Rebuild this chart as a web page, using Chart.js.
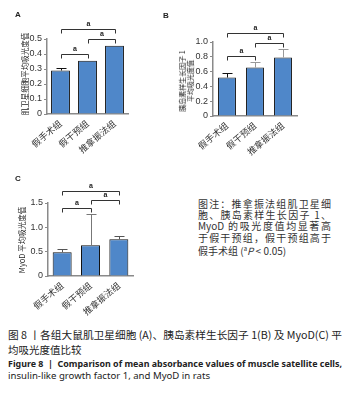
<!DOCTYPE html>
<html>
<head>
<meta charset="utf-8">
<script src="https://cdn.jsdelivr.net/npm/chart.js"></script>
<style>
  body { margin: 0; background: #fff; }
  #page { position: relative; width: 346px; height: 396px; overflow: hidden; font-family: "Noto Sans CJK SC", "Noto Sans", sans-serif; color: #222; }
  canvas { position: absolute; }
  .t { position: absolute; white-space: nowrap; }
  .ytitle { transform: translate(-50%, -50%) rotate(-90deg); text-align: center; }
  .letter { font-family: "Liberation Sans", sans-serif; font-weight: bold; font-size: 8px; transform: translate(-50%, -50%); }
  .note { position: absolute; left: 198px; top: 198px; width: 133px; font-size: 10px; line-height: 11.2px; color: #333; }
  .note div { text-align: justify; text-align-last: justify; white-space: nowrap; }
  .note div.last { text-align-last: left; }
  .cap { position: absolute; left: 8px; white-space: nowrap; transform-origin: left center; color: #222; }
</style>
</head>
<body>
<div id="page">
  <canvas id="chartA" width="165" height="160" style="left:0;top:0"></canvas>
  <canvas id="chartB" width="181" height="160" style="left:165px;top:0"></canvas>
  <canvas id="chartC" width="170" height="160" style="left:0;top:160px"></canvas>

  <div class="t letter" style="left:18px;top:14px">A</div>
  <div class="t letter" style="left:166px;top:15px">B</div>
  <div class="t letter" style="left:18px;top:178px">C</div>

  <div class="t ytitle" style="left:24px;top:74px;font-size:7.5px">肌卫星细胞平均吸光度值</div>
  <div class="t ytitle" style="left:186px;top:81px;font-size:7px;line-height:8px">胰岛素样生长因子 1<br>平均吸光度值</div>
  <div class="t ytitle" style="left:21px;top:240px;font-size:7.5px">MyoD 平均吸光度值</div>

  <div class="note">
    <div>图注：推拿振法组肌卫星细</div>
    <div>胞、胰岛素样生长因子 1、</div>
    <div>MyoD 的吸光度值均显著高</div>
    <div>于假干预组，假干预组高于</div>
    <div class="last">假手术组 (<sup style="font-size:6px">a</sup><i>P</i> &lt; 0.05)</div>
  </div>

  <div class="cap fit" data-w="334" style="top:327px;font-size:10.5px">图 8 丨各组大鼠肌卫星细胞 (A)、胰岛素样生长因子 1(B) 及 MyoD(C) 平</div>
  <div class="cap" style="top:342px;font-size:10.5px">均吸光度值比较</div>
  <div class="cap fit" data-w="334" style="top:357px;font-size:9px;font-weight:bold;font-family:'Noto Sans',sans-serif">Figure 8 &nbsp;|&nbsp; Comparison of mean absorbance values of muscle satellite cells,</div>
  <div class="cap fit" data-w="202" style="top:369px;font-size:9px;font-family:'Noto Sans',sans-serif">insulin-like growth factor 1, and MyoD in rats</div>
</div>

<script>
const groups = ["假手术组", "假干预组", "推拿振法组"];
const satelliteMean = [0.29, 0.355, 0.455];
const satelliteErr = [0.018, 0, 0];
const igfMean = [0.52, 0.655, 0.79];
const igfErr = [0.063, 0.075, 0.11];
const myodMean = [0.49, 0.63, 0.755];
const myodErr = [0.055, 0.64, 0.07];
// significance comparisons (bar index pairs) and their mark
const pairs = [[0, 2], [1, 2], [0, 1]];
const sigMark = "a";

// draws error bars and significance brackets
const extras = {
  id: "extras",
  afterDatasetsDraw(chart, args, o) {
    const ctx = chart.ctx;
    const xs = chart.scales.x, ys = chart.scales.y;
    const meta = chart.getDatasetMeta(0);
    ctx.save();
    ctx.lineWidth = 1;
    o.err.forEach((e, i) => {
      if (!e) return;
      const bar = meta.data[i];
      const bx = Math.round(bar.x) + 0.5;
      const top = Math.round(ys.getPixelForValue(o.mean[i] + e)) + 0.5;
      ctx.strokeStyle = o.errColor[i];
      ctx.beginPath();
      ctx.moveTo(bx, bar.y);
      ctx.lineTo(bx, top);
      ctx.moveTo(bx - 5, top);
      ctx.lineTo(bx + 5, top);
      ctx.stroke();
    });
    ctx.strokeStyle = "#333";
    ctx.fillStyle = "#222";
    ctx.font = "bold 7px 'Liberation Sans', sans-serif";
    ctx.textAlign = "center";
    ctx.textBaseline = "bottom";
    pairs.forEach((p, k) => {
      const x1 = Math.round(xs.getPixelForValue(p[0])) + 0.5;
      const x2 = Math.round(xs.getPixelForValue(p[1])) + 0.5;
      const yy = Math.round(ys.getPixelForValue(o.levels[k])) + 0.5;
      ctx.beginPath();
      ctx.moveTo(x1, yy + 4);
      ctx.lineTo(x1, yy);
      ctx.lineTo(x2, yy);
      ctx.lineTo(x2, yy + 4);
      ctx.stroke();
      ctx.fillText(sigMark, (x1 + x2) / 2, yy - 2);
    });
    ctx.restore();
  }
};

function makeChart(id, mean, err, cfg) {
  return new Chart(document.getElementById(id), {
    type: "bar",
    data: {
      labels: groups,
      datasets: [{
        data: mean,
        backgroundColor: "#4f87c9",
        borderColor: "#111",
        borderWidth: 1,
        barPercentage: cfg.barPct,
        categoryPercentage: 1,
      }],
    },
    plugins: [extras],
    options: {
      responsive: false,
      animation: false,
      layout: { padding: cfg.padding },
      plugins: {
        legend: { display: false },
        tooltip: { enabled: false },
        extras: { mean: mean, err: err, errColor: cfg.errColor, levels: cfg.levels },
      },
      scales: {
        x: {
          afterFit: (s) => { s.height = cfg.xHeight; },
          grid: { display: false, drawTicks: false },
          border: { color: "#8a8a8a", width: 1.5 },
          ticks: {
            minRotation: 40,
            maxRotation: 40,
            padding: 4,
            color: "#333",
            font: { size: 9, family: "'Noto Sans CJK SC', sans-serif" },
          },
        },
        y: {
          min: 0,
          max: cfg.max,
          afterFit: (s) => { s.width = cfg.yWidth; },
          grid: { drawOnChartArea: false, drawTicks: true, tickLength: 3, color: "#8a8a8a" },
          border: { color: "#8a8a8a", width: 1.5 },
          ticks: {
            stepSize: cfg.step,
            padding: 2,
            color: "#333",
            font: { size: 9, family: "'Liberation Sans', sans-serif" },
            callback: (v) => (v === 0 ? "0" : v.toFixed(1)),
          },
        },
      },
    },
  });
}

makeChart("chartA", satelliteMean, satelliteErr, {
  max: 0.5, step: 0.1, barPct: 0.7,
  padding: { top: 39, right: 37, bottom: 0, left: 0 },
  yWidth: 47, xHeight: 46,
  errColor: ["#111", "#111", "#111"],
  levels: [0.57, 0.497, 0.40],
});

makeChart("chartB", igfMean, igfErr, {
  max: 1.0, step: 0.2, barPct: 0.64,
  padding: { top: 42, right: 49, bottom: 0, left: 0 },
  yWidth: 48, xHeight: 44,
  errColor: ["#111", "#999", "#999"],
  levels: [1.127, 0.99, 0.81],
});

makeChart("chartC", myodMean, myodErr, {
  max: 1.5, step: 0.5, barPct: 0.67,
  padding: { top: 43, right: 37, bottom: 0, left: 0 },
  yWidth: 48, xHeight: 44,
  errColor: ["#555", "#777", "#555"],
  levels: [1.745, 1.555, 1.40],
});

// squeeze caption lines to the reference widths
document.querySelectorAll(".fit").forEach((el) => {
  const w = el.getBoundingClientRect().width;
  el.style.transform = "scaleX(" + (+el.dataset.w / w) + ")";
});
</script>
</body>
</html>
